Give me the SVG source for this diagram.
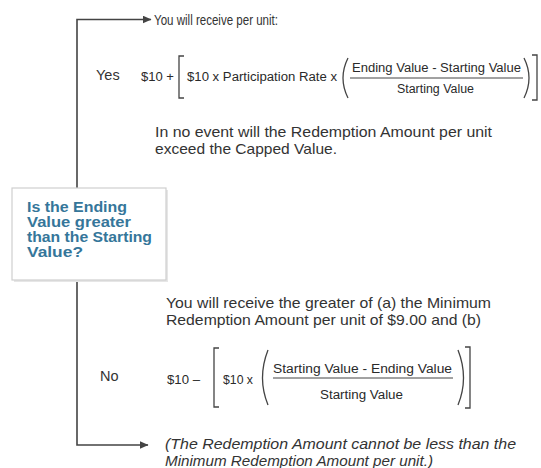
<svg xmlns="http://www.w3.org/2000/svg" width="541" height="468" viewBox="0 0 541 468">
<style>
.t{font-family:"Liberation Sans",Arial,sans-serif;font-size:14.5px;fill:#333}
.f{font-family:"Liberation Sans",Arial,sans-serif;font-size:12px;fill:#2a2a2a}
.q{font-family:"Liberation Sans",Arial,sans-serif;font-size:14px;font-weight:bold;fill:#35769a}
.i{font-style:italic}
.ln{fill:none;stroke:#444;stroke-width:1.6}
.br{fill:none;stroke:#444;stroke-width:1.3}
.fr{stroke:#444;stroke-width:1}
</style>
<defs>
<marker id="ah" markerWidth="9" markerHeight="8" refX="8.5" refY="4" orient="auto" markerUnits="userSpaceOnUse">
<path d="M0,0 L9,4 L0,8 Z" fill="#444"/>
</marker>
</defs>
<rect width="541" height="468" fill="#fff"/>
<g id="connectors">
<path class="ln" d="M77,188 V19.5 H151" marker-end="url(#ah)"/>
<path class="ln" d="M77,280 V445 H148" marker-end="url(#ah)"/>
</g>
<g id="decision">
<rect x="14" y="190" width="154" height="92" fill="#e6e6e6"/>
<rect x="12" y="188" width="154" height="92" fill="#fff" stroke="#cfcfcf" stroke-width="1.2"/>
<text class="q" x="27" y="212" textLength="100" lengthAdjust="spacingAndGlyphs">Is the Ending</text>
<text class="q" x="27" y="227" textLength="104" lengthAdjust="spacingAndGlyphs">Value greater</text>
<text class="q" x="27" y="242" textLength="125" lengthAdjust="spacingAndGlyphs">than the Starting</text>
<text class="q" x="27" y="257" textLength="56" lengthAdjust="spacingAndGlyphs">Value?</text>
</g>
<g id="yes-branch">
<text class="t" x="154" y="25" textLength="124" lengthAdjust="spacingAndGlyphs">You will receive per unit:</text>
<text class="t" x="96" y="80">Yes</text>
<text class="f" x="141" y="81" textLength="33" lengthAdjust="spacingAndGlyphs">$10 +</text>
<path class="br" d="M184,56 H179 V98 H184"/>
<text class="f" x="187" y="81" textLength="150" lengthAdjust="spacingAndGlyphs">$10 x Participation Rate x</text>
<path class="br" d="M348,58 Q338,78 348,98"/>
<text class="f" x="352" y="72" textLength="169" lengthAdjust="spacingAndGlyphs">Ending Value - Starting  Value</text>
<line class="fr" x1="350" y1="78" x2="523" y2="78"/>
<text class="f" x="397" y="93" textLength="77" lengthAdjust="spacingAndGlyphs">Starting Value</text>
<path class="br" d="M524,58 Q534,78 524,98"/>
<path class="br" d="M532,55 H537 V100 H532"/>
<text class="t" x="155" y="137" textLength="337" lengthAdjust="spacingAndGlyphs">In no event will the Redemption Amount per unit</text>
<text class="t" x="155" y="154" textLength="182" lengthAdjust="spacingAndGlyphs">exceed the Capped Value.</text>
</g>
<g id="no-branch">
<text class="t" x="166" y="308" textLength="325" lengthAdjust="spacingAndGlyphs">You will receive the greater of (a) the Minimum</text>
<text class="t" x="166" y="325" textLength="315" lengthAdjust="spacingAndGlyphs">Redemption Amount per unit of $9.00 and (b)</text>
<text class="t" x="100" y="381">No</text>
<text class="f" x="167" y="384" textLength="33" lengthAdjust="spacingAndGlyphs">$10 –</text>
<path class="br" d="M219,348 H214 V407 H219"/>
<text class="f" x="223" y="384" textLength="30" lengthAdjust="spacingAndGlyphs">$10 x</text>
<path class="br" d="M268,350 Q257,378 268,405"/>
<text class="f" x="273" y="373" textLength="179" lengthAdjust="spacingAndGlyphs">Starting  Value  - Ending  Value</text>
<line class="fr" x1="273" y1="378" x2="453" y2="378"/>
<text class="f" x="320" y="399" textLength="83" lengthAdjust="spacingAndGlyphs">Starting  Value</text>
<path class="br" d="M458,350 Q469,378 458,405"/>
<path class="br" d="M465,347 H470 V408 H465"/>
<text class="t i" x="165" y="449" textLength="351" lengthAdjust="spacingAndGlyphs">(The Redemption Amount cannot be less than the</text>
<text class="t i" x="165" y="466" textLength="268" lengthAdjust="spacingAndGlyphs">Minimum Redemption Amount per unit.)</text>
</g>
</svg>
